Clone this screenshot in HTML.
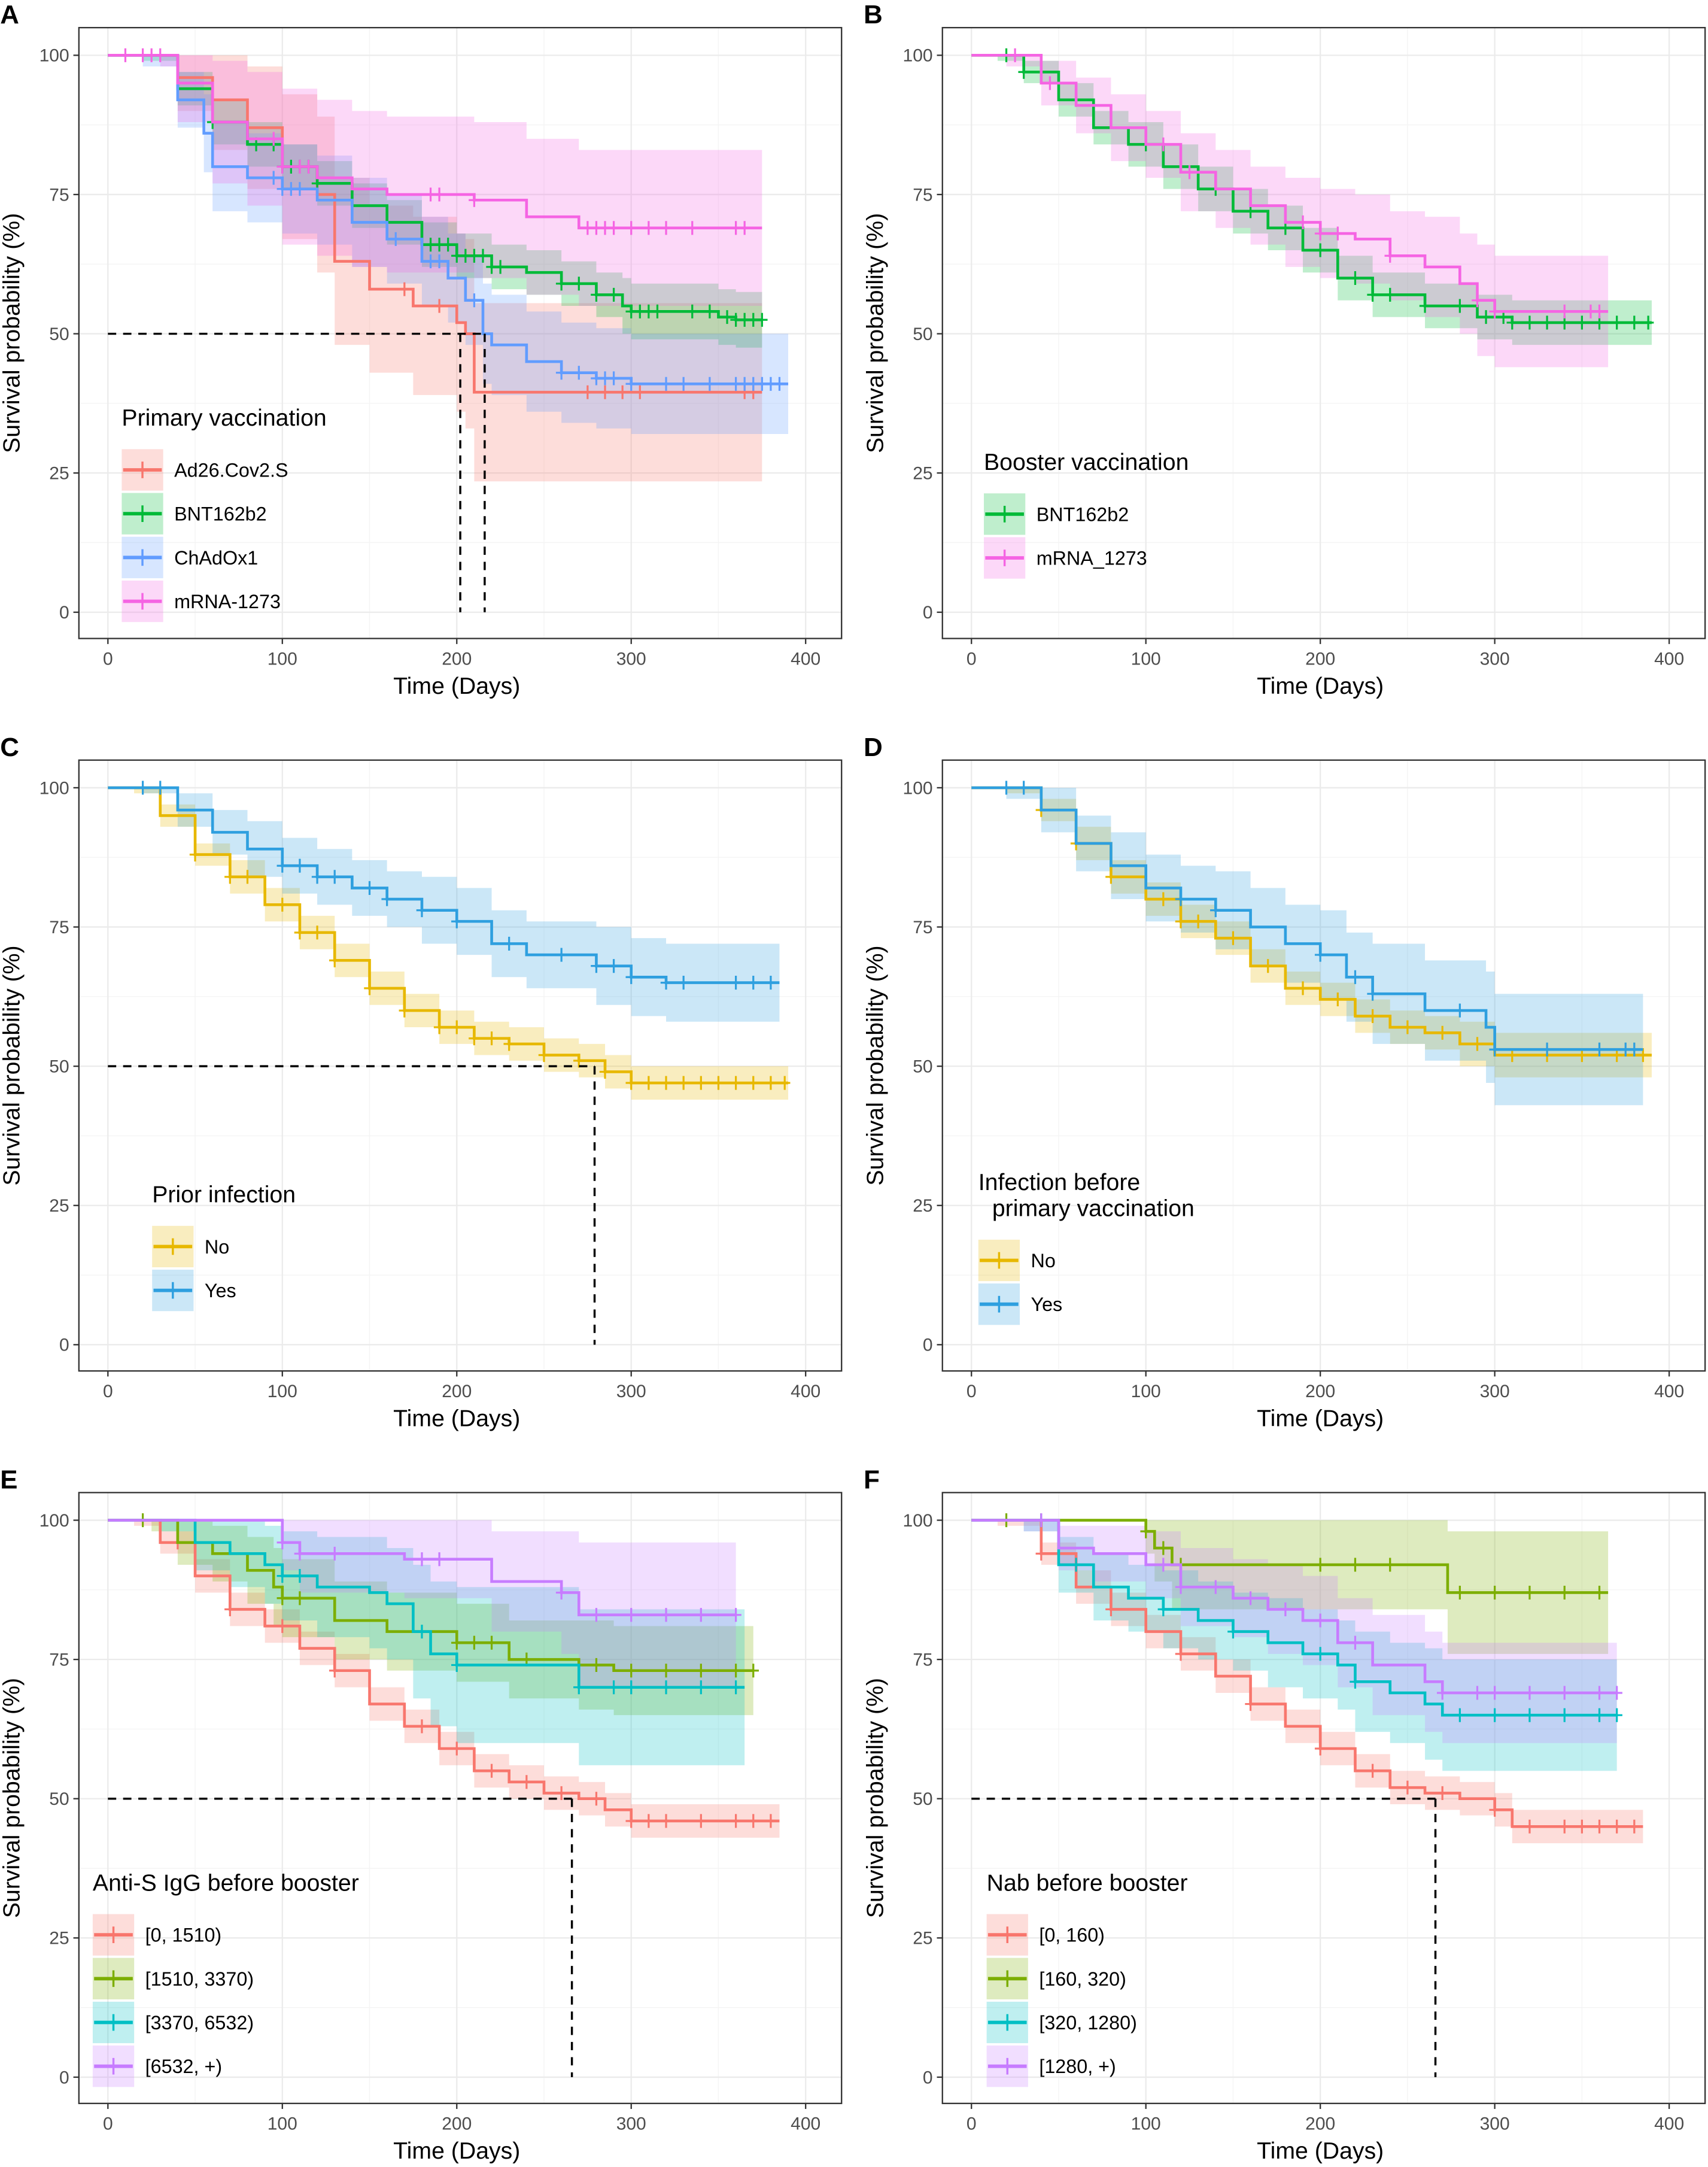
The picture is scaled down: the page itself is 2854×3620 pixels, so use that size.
<!DOCTYPE html>
<html><head><meta charset="utf-8"><style>
html,body{margin:0;padding:0;background:#fff}
svg{display:block}
text{font-family:"Liberation Sans",Arial,sans-serif}
</style></head><body>
<svg id="fig" width="2854" height="3620" viewBox="0 0 1236 1568" xmlns="http://www.w3.org/2000/svg"></svg>
<script>
// ---------- DATA ----------
// Panel A: primary vaccination
const A_ad26_t=[0,40,60,80,100,120,130,150,175,200,205,210];
const A_ad26_s=[100,96,92,87,80,75,63,58,55,52,50,39.5];
const A_ad26_w=[0,6,9,11,13,14,15,15,16,16,17,16];
const A_ad26_c=[170,190,275,285,295,305,365,370];
const A_ad26_end=375;
const A_bnt_t=[0,20,40,60,80,100,120,140,160,180,200,220,240,260,280,295,300,350,360];
const A_bnt_s=[100,100,94,88,84,80,77,73,70,66,64,62,61,59,57,55,54,53,52.5];
const A_bnt_w=[0,1,3,4,4,4,4,4,4,4,4,4,4,4,4,5,5,5,5];
const A_bnt_c=[60,85,95,100,105,110,115,120,185,190,195,200,205,210,215,220,225,260,270,280,290,300,305,310,315,335,345,355,360,365,370,375];
const A_bnt_end=375;
const A_chad_t=[0,20,40,55,60,80,100,120,140,160,180,195,205,215,220,240,260,280,300];
const A_chad_s=[100,100,92,86,80,78,76,74,70,67,63,60,56,50,48,45,43,42,41];
const A_chad_w=[0,2,5,7,8,8,8,8,8,8,8,8,8,9,9,9,9,9,9];
const A_chad_c=[95,100,105,110,165,185,190,210,260,270,280,285,290,300,320,330,345,360,365,370,375,380,385];
const A_chad_end=390;
const A_mrna_t=[0,30,40,60,80,100,120,140,160,210,240,270];
const A_mrna_s=[100,100,95,88,85,80,78,76,75,74,71,69];
const A_mrna_w=[0,2,7,11,12,14,14,14,14,14,14,14];
const A_mrna_c=[10,20,25,30,95,100,110,115,185,190,210,275,280,285,290,300,310,320,335,360,365];
const A_mrna_end=375;
// Panel B: booster vaccination
const B_bnt_t=[0,15,30,50,70,90,110,130,150,170,190,210,230,260,290,310];
const B_bnt_s=[100,100,97,92,87,84,80,76,72,69,65,60,57,55,53,52];
const B_bnt_w=[0,1,2,3,3,4,4,4,4,4,4,4,4,4,4,4];
const B_bnt_c=[20,30,40,60,100,120,140,160,180,200,220,230,240,260,280,295,305,310,320,330,340,350,360,370,380,388];
const B_bnt_end=390;
const B_mrna_t=[0,20,40,60,80,100,120,140,160,180,200,220,240,260,280,290,300];
const B_mrna_s=[100,100,95,91,87,84,79,76,73,70,68,67,64,62,59,56,54];
const B_mrna_w=[0,2,4,5,6,6,7,7,7,8,8,8,8,9,9,10,10];
const B_mrna_c=[25,45,110,125,190,200,210,240,290,300,340,355,360];
const B_mrna_end=365;
// Panel C: prior infection
const C_no_t=[0,15,30,50,70,90,110,130,150,170,190,210,230,250,270,285,300];
const C_no_s=[100,100,95,88,84,79,74,69,64,60,57,55,54,52,51,49,47];
const C_no_w=[0,1,2,2,3,3,3,3,3,3,3,3,3,3,3,3,3];
const C_no_c=[50,70,80,100,110,120,130,150,170,190,200,210,220,230,250,270,285,300,310,320,330,340,350,360,370,380,388];
const C_no_end=390;
const C_yes_t=[0,20,40,60,80,100,120,140,160,180,200,220,240,280,300,320];
const C_yes_s=[100,100,96,92,89,86,84,82,80,78,76,72,70,68,66,65];
const C_yes_w=[0,1,3,4,5,5,5,5,5,6,6,6,6,7,7,7];
const C_yes_c=[20,30,100,110,120,130,150,160,180,200,230,260,280,290,300,320,330,360,370,380];
const C_yes_end=385;
// Panel D: infection before primary vaccination
const D_no_t=[0,20,40,60,80,100,120,140,160,180,200,220,240,260,280,300];
const D_no_s=[100,100,96,90,84,80,76,73,68,64,62,59,57,56,54,52];
const D_no_w=[0,1,2,3,3,3,3,3,3,3,3,3,3,3,4,4];
const D_no_c=[40,60,80,110,120,130,150,170,190,210,230,250,270,290,310,330,350,370,385];
const D_no_end=390;
const D_yes_t=[0,20,40,60,80,100,120,140,160,180,200,215,230,260,295,300];
const D_yes_s=[100,100,96,90,86,82,80,78,75,72,70,66,63,60,57,53];
const D_yes_w=[0,2,4,5,6,6,6,7,7,7,8,8,9,9,10,10];
const D_yes_c=[20,30,120,140,200,220,230,280,300,330,360,375,380];
const D_yes_end=385;
// Panel E: anti-S IgG before booster
const E_q1_t=[0,15,30,50,70,90,110,130,150,170,190,210,230,250,270,285,300];
const E_q1_s=[100,100,96,90,84,81,77,73,67,63,59,55,53,51,50,48,46];
const E_q1_w=[0,1,2,3,3,3,3,3,3,3,3,3,3,3,3,3,3];
const E_q1_c=[40,70,100,130,180,200,220,240,260,280,300,310,320,340,360,370,380];
const E_q1_end=385;
const E_q2_t=[0,25,40,60,80,95,100,130,160,200,230,270,290];
const E_q2_s=[100,100,96,94,91,88,86,82,80,78,75,74,73];
const E_q2_w=[0,2,4,5,6,7,7,7,7,7,7,8,8];
const E_q2_c=[20,100,110,200,210,220,240,280,300,320,340,360,370];
const E_q2_end=370;
const E_q3_t=[0,30,50,70,90,100,120,150,160,175,185,200,270];
const E_q3_s=[100,100,96,94,92,90,88,87,85,80,76,74,70];
const E_q3_w=[0,2,5,6,7,8,9,10,10,12,13,14,14];
const E_q3_c=[100,110,180,200,270,290,300,320,340,360];
const E_q3_end=365;
const E_q4_t=[0,95,100,110,170,220,260,270];
const E_q4_s=[100,100,96,94,93,89,87,83];
const E_q4_w=[0,0,5,7,7,9,11,13];
const E_q4_c=[100,110,130,180,190,260,280,300,320,340,360];
const E_q4_end=360;
// Panel F: Nab before booster
const F_q1_t=[0,15,40,60,80,100,120,140,160,180,200,220,240,260,280,300,310];
const F_q1_s=[100,100,94,88,84,80,76,72,67,63,59,55,52,51,50,48,45];
const F_q1_w=[0,1,2,3,3,3,3,3,3,3,3,3,3,3,3,3,3];
const F_q1_c=[40,80,120,160,200,230,250,270,300,320,340,350,360,370,380];
const F_q1_end=385;
const F_q2_t=[0,95,100,105,115,270,273];
const F_q2_s=[100,100,98,95,92,92,87];
const F_q2_w=[0,0,4,6,8,8,11];
const F_q2_c=[20,40,100,110,120,200,220,240,280,300,320,340,360];
const F_q2_end=365;
const F_q3_t=[0,30,50,70,90,110,130,150,170,190,210,220,240,260,270];
const F_q3_s=[100,100,92,88,86,84,82,80,78,76,74,71,69,67,65];
const F_q3_w=[0,2,5,6,6,7,7,7,8,8,8,9,9,10,10];
const F_q3_c=[40,60,110,150,200,220,280,300,320,340,360,370];
const F_q3_end=370;
const F_q4_t=[0,30,50,70,100,120,150,170,190,210,230,260,270];
const F_q4_s=[100,100,95,94,92,88,86,84,82,78,74,71,69];
const F_q4_w=[0,2,4,5,6,7,7,8,8,8,9,9,9];
const F_q4_c=[40,110,120,140,160,180,200,220,270,290,300,320,340,360,370];
const F_q4_end=370;

const xTicks=[0,100,200,300,400];
const yTicks=[0,25,50,75,100];

// ---------- DRAW ----------
const svg=document.getElementById('fig');
const NS='http://www.w3.org/2000/svg';
function mk(tag,attrs,parent,txt){const e=document.createElementNS(NS,tag);for(const k in attrs)e.setAttribute(k,attrs[k]);if(txt!==undefined)e.textContent=txt;(parent||svg).appendChild(e);return e;}

const C={red:'#F8766D',green:'#00BA38',blue:'#619CFF',mag:'#F564E3',gold:'#E7B800',sky:'#2E9FDF',olive:'#7CAE00',cyan:'#00BFC4',purple:'#C77CFF'};

const panels=[
 {id:'A',left:57,top:20,legendTitle:['Primary vaccination'],lx:88,ly:308,series:[
  ['Ad26.Cov2.S',C.red,A_ad26_t,A_ad26_s,A_ad26_w,A_ad26_c,A_ad26_end],
  ['BNT162b2',C.green,A_bnt_t,A_bnt_s,A_bnt_w,A_bnt_c,A_bnt_end],
  ['ChAdOx1',C.blue,A_chad_t,A_chad_s,A_chad_w,A_chad_c,A_chad_end],
  ['mRNA-1273',C.mag,A_mrna_t,A_mrna_s,A_mrna_w,A_mrna_c,A_mrna_end]],medians:[202,216]},
 {id:'B',left:682,top:20,legendTitle:['Booster vaccination'],lx:712,ly:340,series:[
  ['BNT162b2',C.green,B_bnt_t,B_bnt_s,B_bnt_w,B_bnt_c,B_bnt_end],
  ['mRNA_1273',C.mag,B_mrna_t,B_mrna_s,B_mrna_w,B_mrna_c,B_mrna_end]],medians:[]},
 {id:'C',left:57,top:550,legendTitle:['Prior infection'],lx:110,ly:870,series:[
  ['No',C.gold,C_no_t,C_no_s,C_no_w,C_no_c,C_no_end],
  ['Yes',C.sky,C_yes_t,C_yes_s,C_yes_w,C_yes_c,C_yes_end]],medians:[279]},
 {id:'D',left:682,top:550,legendTitle:['Infection before','  primary vaccination'],lx:708,ly:861,series:[
  ['No',C.gold,D_no_t,D_no_s,D_no_w,D_no_c,D_no_end],
  ['Yes',C.sky,D_yes_t,D_yes_s,D_yes_w,D_yes_c,D_yes_end]],medians:[]},
 {id:'E',left:57,top:1080,legendTitle:['Anti-S IgG before booster'],lx:67,ly:1368,series:[
  ['[0, 1510)',C.red,E_q1_t,E_q1_s,E_q1_w,E_q1_c,E_q1_end],
  ['[1510, 3370)',C.olive,E_q2_t,E_q2_s,E_q2_w,E_q2_c,E_q2_end],
  ['[3370, 6532)',C.cyan,E_q3_t,E_q3_s,E_q3_w,E_q3_c,E_q3_end],
  ['[6532, +)',C.purple,E_q4_t,E_q4_s,E_q4_w,E_q4_c,E_q4_end]],medians:[266]},
 {id:'F',left:682,top:1080,legendTitle:['Nab before booster'],lx:714,ly:1368,series:[
  ['[0, 160)',C.red,F_q1_t,F_q1_s,F_q1_w,F_q1_c,F_q1_end],
  ['[160, 320)',C.olive,F_q2_t,F_q2_s,F_q2_w,F_q2_c,F_q2_end],
  ['[320, 1280)',C.cyan,F_q3_t,F_q3_s,F_q3_w,F_q3_c,F_q3_end],
  ['[1280, +)',C.purple,F_q4_t,F_q4_s,F_q4_w,F_q4_c,F_q4_end]],medians:[266]}
];

panels.forEach(p=>{
 const W=552,H=442;
 const sx=d=>p.left+21+d*1.2625;
 const sy=v=>p.top+20+(100-v)*4.03;
 const g=mk('g',{});
 
 
 const lab=mk('text',{x:p.left-57,y:p.top-3,'font-size':19,'font-weight':'bold'},g,p.id);
 
 
 mk('rect',{x:p.left,y:p.top,width:W,height:H,fill:'#fff'},g);
 // grid
 [50,150,250,350].forEach(d=>mk('line',{x1:sx(d),x2:sx(d),y1:p.top,y2:p.top+H,stroke:'#F4F4F4','stroke-width':0.6},g));
 [12.5,37.5,62.5,87.5].forEach(v=>mk('line',{x1:p.left,x2:p.left+W,y1:sy(v),y2:sy(v),stroke:'#F4F4F4','stroke-width':0.6},g));
 xTicks.forEach(d=>mk('line',{x1:sx(d),x2:sx(d),y1:p.top,y2:p.top+H,stroke:'#EBEBEB','stroke-width':1},g));
 yTicks.forEach(v=>mk('line',{x1:p.left,x2:p.left+W,y1:sy(v),y2:sy(v),stroke:'#EBEBEB','stroke-width':1},g));
 // ribbons
 p.series.forEach(s=>{
  const [name,col,t,sv,w,cen,end]=s;
  let up='',lo=[];
  for(let i=0;i<t.length;i++){
   const x1=sx(t[i]),x2=sx(i<t.length-1?t[i+1]:end);
   const u=Math.min(100,sv[i]+w[i]),l=Math.max(0,sv[i]-w[i]);
   up+=(i===0?'M':'L')+x1+','+sy(u)+'L'+x2+','+sy(u);
   lo.unshift(x2+','+sy(l),x1+','+sy(l));
  }
  const r=mk('path',{d:up+'L'+lo.join('L')+'Z',fill:col,'fill-opacity':0.25,stroke:'none'},g);
  
  
 });
 // curves
 p.series.forEach(s=>{
  const [name,col,t,sv,w,cen,end]=s;
  let d='M'+sx(t[0])+','+sy(sv[0]);
  for(let i=1;i<t.length;i++) d+='H'+sx(t[i])+'V'+sy(sv[i]);
  d+='H'+sx(end);
  const ln=mk('path',{d:d,fill:'none',stroke:col,'stroke-width':2},g);
  
  
  let cd='';
  cen.forEach(c=>{let v=sv[0];for(let i=0;i<t.length;i++) if(t[i]<=c) v=sv[i];
   const x=sx(c),y=sy(v);cd+='M'+x+','+(y-5)+'V'+(y+5)+'M'+(x-4)+','+y+'H'+(x+4);});
  const cm=mk('path',{d:cd,fill:'none',stroke:col,'stroke-width':1.4},g);
  
  
 });
 // median lines
 if(p.medians.length){
  const mx=Math.max(...p.medians);
  mk('line',{x1:sx(0),x2:sx(mx),y1:sy(50),y2:sy(50),stroke:'#000','stroke-width':1.5,'stroke-dasharray':'6,5'},g);
  p.medians.forEach(m=>mk('line',{x1:sx(m),x2:sx(m),y1:sy(50),y2:sy(0),stroke:'#000','stroke-width':1.5,'stroke-dasharray':'6,5'},g));
 }
 mk('rect',{x:p.left,y:p.top,width:W,height:H,fill:'none',stroke:'#333','stroke-width':1},g);
 // ticks
 xTicks.forEach(d=>{mk('line',{x1:sx(d),x2:sx(d),y1:p.top+H,y2:p.top+H+4,stroke:'#333'},g);
  mk('text',{x:sx(d),y:p.top+H+19,'font-size':13,fill:'#4D4D4D','text-anchor':'middle'},g,d);});
 yTicks.forEach(v=>{mk('line',{x1:p.left-4,x2:p.left,y1:sy(v),y2:sy(v),stroke:'#333'},g);
  mk('text',{x:p.left-7,y:sy(v)+4.5,'font-size':13,fill:'#4D4D4D','text-anchor':'end'},g,v);});
 const xt=mk('text',{x:sx(200),y:p.top+H+40,'font-size':17,'text-anchor':'middle'},g,'Time (Days)');
 
 
 const yx=p.left-43,yy=p.top+H/2;
 const yt=mk('text',{x:yx,y:yy,'font-size':17,'text-anchor':'middle',transform:'rotate(-90 '+yx+' '+yy+')'},g,'Survival probability (%)');
 
 
 // legend
 const lg=mk('g',{},g);
 
 
 p.legendTitle.forEach((tl,i)=>mk('text',{x:p.lx,y:p.ly+i*19,'font-size':17,'xml:space':'preserve'},lg,tl.replace(/^ +/,'')).setAttribute('dx',tl.startsWith(' ')?10:0));
 const base=p.ly+(p.legendTitle.length-1)*19;
 p.series.forEach((s,i)=>{
  const cy=base+32+i*31.7;
  const e=mk('g',{},lg);
  
  
  mk('rect',{x:p.lx,y:cy-15,width:30,height:30,fill:s[1],'fill-opacity':0.25},e);
  mk('line',{x1:p.lx+1,x2:p.lx+29,y1:cy,y2:cy,stroke:s[1],'stroke-width':2.5},e);
  mk('line',{x1:p.lx+15,x2:p.lx+15,y1:cy-6,y2:cy+6,stroke:s[1],'stroke-width':1.5},e);
  mk('text',{x:p.lx+38,y:cy+5,'font-size':14},e,s[0]);
 });
});
</script>
</body></html>
